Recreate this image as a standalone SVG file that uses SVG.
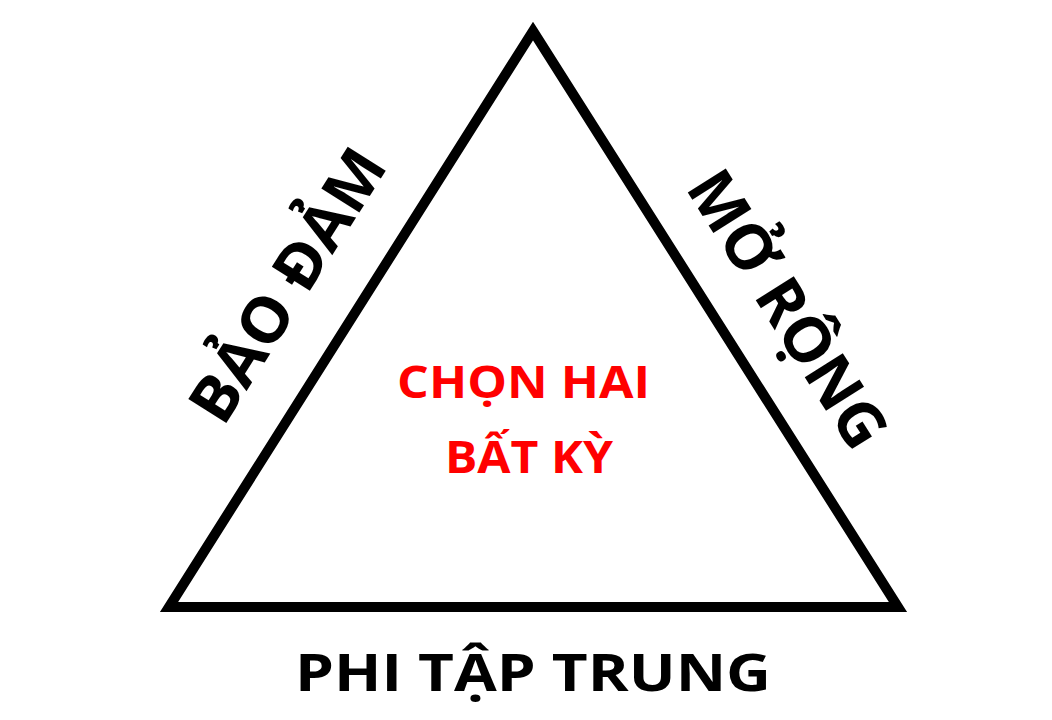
<svg xmlns="http://www.w3.org/2000/svg" width="1052" height="720" viewBox="0 0 1052 720">
<style>
.lbl{font-family:"Open Sans","Noto Sans","DejaVu Sans",sans-serif;font-weight:700;text-anchor:middle}
.side{font-size:63px;fill:#000}
.base{font-size:52px;fill:#000}
.center{font-size:45px;fill:#ff0000}
</style>
<rect x="0" y="0" width="1052" height="720" fill="#ffffff"/>
<g id="connectors">
<polygon id="triangle" points="533,31 898,607 169,607" fill="#ffffff" stroke="#000000" stroke-width="10" stroke-linejoin="miter" stroke-miterlimit="10"/>
</g>
<g id="node-bao-dam">
<text class="lbl side" transform="translate(306,297) rotate(-57.7)" x="0" y="0" textLength="310" lengthAdjust="spacingAndGlyphs">BẢO ĐẢM</text>
</g>
<g id="node-mo-rong">
<text class="lbl side" transform="translate(769,321) rotate(57.7)" x="0" y="0" textLength="315" lengthAdjust="spacingAndGlyphs">MỞ RỘNG</text>
</g>
<g id="node-phi-tap-trung">
<text class="lbl base" x="533" y="691" textLength="476" lengthAdjust="spacingAndGlyphs">PHI TẬP TRUNG</text>
</g>
<g id="node-center">
<text class="lbl center" x="523.5" y="398" textLength="253" lengthAdjust="spacingAndGlyphs">CHỌN HAI</text>
<text class="lbl center" x="529" y="473" textLength="168" lengthAdjust="spacingAndGlyphs">BẤT KỲ</text>
</g>
</svg>
